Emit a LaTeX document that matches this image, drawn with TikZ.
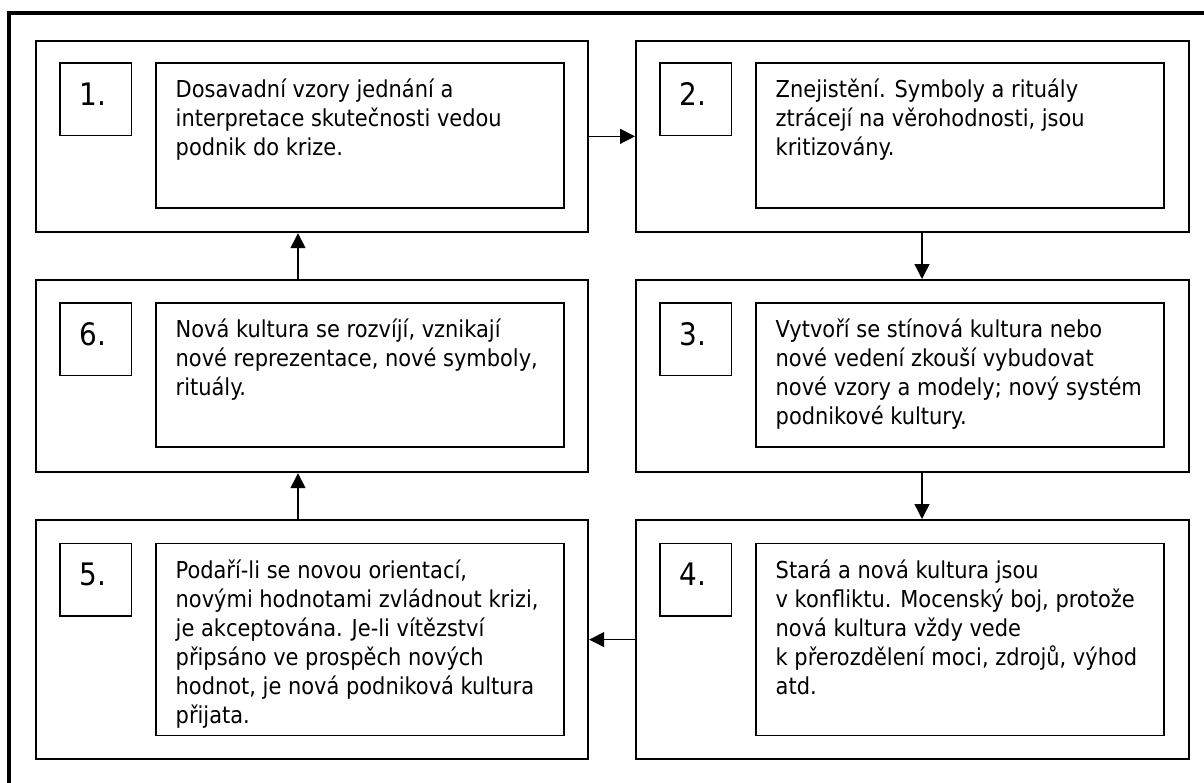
\documentclass[tikz,border=0pt]{standalone}
\usepackage{fontspec}
\newfontfamily\tfont{DejaVu Sans Condensed}
\usetikzlibrary{arrows.meta,calc}
\begin{document}
\begin{tikzpicture}[x=1pt,y=-1pt,
  frame/.style={line width=3.3pt, line join=miter},
  bigbox/.style={draw, line width=2.2pt, minimum width=552.5pt, inner sep=0pt, anchor=north west},
  numbox/.style={draw, line width=1.8pt, minimum width=71.5pt, minimum height=72.5pt, inner sep=0pt, anchor=north west},
  txtbox/.style={draw, line width=1.8pt, minimum width=408pt, inner sep=0pt, anchor=north west},
  numtxt/.style={font={\tfont\fontsize{31}{36}\selectfont}, inner sep=0pt, anchor=base},
  bodytxt/.style={font={\tfont\fontsize{23.3}{29}\selectfont}, inner sep=0pt, anchor=north west, align=left},
  arr/.style={line width=1.3pt, -{Triangle[length=15pt,width=15pt]}}
]
\useasboundingbox (0,0) rectangle (1204,782);
\fill[white] (0,0) rectangle (1204,782);
\draw[frame] (9,790) -- (9,13) -- (1210,13);

% row 1
\node[bigbox, minimum height=191.5pt] (b1) at (34.5,39.5) {};
\node[bigbox, minimum height=191.5pt] (b2) at (635,39.5) {};
% row 2
\node[bigbox, minimum height=192pt] (b6) at (34.5,279) {};
\node[bigbox, minimum height=192pt] (b3) at (635,279) {};
% row 3
\node[bigbox, minimum height=239pt] (b5) at (34.5,519) {};
\node[bigbox, minimum height=239pt] (b4) at (635,519) {};

% number boxes
\node[numbox] (n1) at (59,62) {};
\node[numbox] (n2) at (659,62) {};
\node[numbox] (n6) at (59,302) {};
\node[numbox] (n3) at (659,302) {};
\node[numbox] (n5) at (59,542.5) {};
\node[numbox] (n4) at (659,542.5) {};

\node[numtxt] (l1) at (93,105) {1.};
\node[numtxt] (l2) at (693,105) {2.};
\node[numtxt] (l6) at (93,345) {6.};
\node[numtxt] (l3) at (693,345) {3.};
\node[numtxt] (l5) at (93,585.5) {5.};
\node[numtxt] (l4) at (693,585.5) {4.};

% text boxes
\node[txtbox, minimum height=145pt] (t1) at (155,62) {};
\node[txtbox, minimum height=145pt] (t2) at (755,62) {};
\node[txtbox, minimum height=144pt] (t6) at (155,302) {};
\node[txtbox, minimum height=144pt] (t3) at (755,302) {};
\node[txtbox, minimum height=192pt] (t5) at (155,542.5) {};
\node[txtbox, minimum height=192pt] (t4) at (755,542.5) {};

\node[bodytxt] (x1) at (175.5,73) {\rule{0pt}{24pt}Dosavadní vzory jednání a\\interpretace skutečnosti vedou\\podnik do krize.};
\node[bodytxt] (x2) at (775.5,73) {\rule{0pt}{24pt}Znejistění. Symboly a rituály\\ztrácejí na věrohodnosti, jsou\\kritizovány.};
\node[bodytxt] (x6) at (175.5,313) {\rule{0pt}{24pt}Nová kultura se rozvíjí, vznikají\\nové reprezentace, nové symboly,\\rituály.};
\node[bodytxt] (x3) at (775.5,313) {\rule{0pt}{24pt}Vytvoří se stínová kultura nebo\\nové vedení zkouší vybudovat\\nové vzory a modely; nový systém\\podnikové kultury.};
\node[bodytxt] (x5) at (175.5,554) {\rule{0pt}{24pt}Podaří-li se novou orientací,\\novými hodnotami zvládnout krizi,\\je akceptována. Je-li vítězství\\připsáno ve prospěch nových\\hodnot, je nová podniková kultura\\přijata.};
\node[bodytxt] (x4) at (775.5,554) {\rule{0pt}{24pt}Stará a nová kultura jsou\\v konfliktu. Mocenský boj, protože\\nová kultura vždy vede\\k přerozdělení moci, zdrojů, výhod\\atd.};

% arrows
\coordinate (ax) at (922,0);
\coordinate (bx) at (298,0);
\draw[arr] (b1.east) -- (b2.west);
\draw[arr] (b2.south -| ax) -- (b3.north -| ax);
\draw[arr] (b3.south -| ax) -- (b4.north -| ax);
\draw[arr] (b4.west) -- (b5.east);
\draw[arr] (b5.north -| bx) -- (b6.south -| bx);
\draw[arr] (b6.north -| bx) -- (b1.south -| bx);
\end{tikzpicture}
\end{document}
